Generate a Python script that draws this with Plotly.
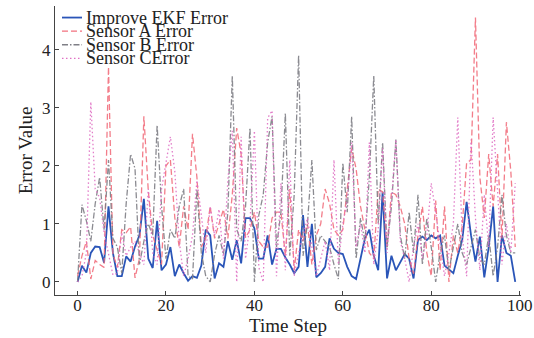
import plotly.graph_objects as go

steps = list(range(100))

improve_ekf = [0.00, 0.28, 0.16, 0.50, 0.61, 0.60, 0.33, 1.30, 0.50, 0.10,
               0.10, 0.44, 0.35, 0.61, 0.80, 1.43, 0.40, 0.24, 1.05, 0.20,
               0.30, 0.60, 0.10, 0.30, 0.15, 0.02, 0.10, 0.07, 0.28, 0.90,
               0.80, 0.06, 0.32, 0.26, 0.70, 0.38, 0.72, 0.32, 1.10, 1.10,
               0.92, 0.40, 0.40, 0.80, 0.30, 0.57, 0.57, 0.42, 0.30, 0.15,
               0.26, 1.15, 0.26, 1.00, 0.08, 0.15, 0.26, 0.75, 0.57, 0.50,
               0.48, 0.26, 0.10, 0.05, 0.40, 0.75, 0.90, 0.45, 0.20, 1.55,
               0.06, 0.45, 0.20, 0.35, 0.48, 0.40, 0.06, 0.72, 0.78, 0.72,
               0.80, 0.75, 0.80, 0.28, 0.22, 0.15, 0.45, 0.72, 1.38, 0.80,
               0.35, 0.78, 0.08, 0.60, 1.30, 0.00, 0.80, 0.50, 0.45, 0.00]

sensor_a = [0.10, 0.45, 0.70, 0.05, 0.37, 0.30, 0.25, 3.70, 0.48, 0.25,
            0.90, 0.85, 0.95, 0.07, 0.40, 2.85, 1.57, 0.80, 0.55, 0.30,
            2.00, 2.10, 1.10, 0.60, 1.30, 0.90, 2.55, 1.80, 0.60, 0.75,
            1.30, 0.75, 1.00, 1.25, 0.75, 1.50, 2.65, 2.20, 0.76, 0.90,
            1.20, 0.70, 0.60, 0.60, 1.10, 1.20, 1.20, 0.45, 1.60, 0.20,
            0.90, 0.70, 1.00, 0.30, 0.80, 1.00, 1.60, 1.35, 0.90, 0.80,
            0.90, 1.60, 2.30, 1.95, 1.30, 0.90, 0.50, 0.40, 1.60, 1.55,
            0.60, 1.55, 1.50, 1.30, 1.00, 0.40, 0.14, 0.80, 1.30, 0.50,
            0.10, 1.40, 0.20, 1.30, 0.00, 0.80, 0.50, 0.96, 2.05, 2.10,
            4.55, 1.80, 1.10, 2.20, 1.30, 2.20, 0.75, 2.75, 1.90, 0.60]

sensor_b = [0.00, 1.33, 1.05, 0.70, 1.35, 1.80, 0.90, 2.10, 0.75, 0.60,
            0.15, 1.35, 2.20, 1.95, 0.30, 0.70, 1.00, 0.80, 2.70, 1.30,
            0.40, 0.90, 0.75, 1.30, 1.60, 0.10, 0.05, 1.60, 0.50, 0.10,
            0.00, 0.47, 0.80, 0.47, 1.20, 3.55, 0.90, 0.70, 1.30, 2.65,
            0.00, 1.15, 1.50, 2.40, 2.85, 0.60, 1.20, 2.90, 0.45, 1.50,
            3.90, 0.45, 1.00, 2.10, 0.55, 0.80, 0.70, 0.60, 0.30, 0.05,
            2.05, 1.20, 2.85, 0.40, 1.10, 0.70, 1.80, 3.55, 1.00, 2.40,
            0.60, 1.30, 2.45, 0.80, 0.40, 1.20, 0.50, 1.50, 0.30, 1.10,
            0.60, 0.00, 0.50, 0.80, 0.20, 0.60, 1.00, 0.50, 0.30, 0.60,
            0.90, 0.40, 0.30, 0.80, 0.10, 0.60, 1.50, 0.80, 0.50, 0.50]

sensor_c = [0.00, 0.10, 0.50, 3.10, 1.60, 1.45, 0.85, 0.50, 0.12, 0.15,
            0.85, 0.45, 0.60, 0.70, 0.50, 0.30, 1.60, 0.50, 0.30, 1.60,
            2.05, 2.50, 1.90, 0.70, 0.10, 0.40, 0.80, 1.75, 1.15, 0.50,
            1.30, 0.80, 1.25, 0.40, 1.75, 2.60, 0.00, 2.50, 0.40, 1.00,
            2.60, 0.25, 0.00, 2.82, 2.95, 0.10, 1.70, 0.20, 2.10, 0.10,
            0.50, 0.80, 1.10, 0.60, 0.10, 0.40, 0.70, 0.20, 2.10, 0.30,
            1.00, 1.40, 2.40, 0.60, 1.00, 0.50, 2.40, 0.30, 0.90, 2.30,
            0.50, 1.40, 2.45, 0.70, 0.40, 0.00, 0.60, 1.00, 0.40, 0.80,
            1.70, 1.20, 0.60, 0.10, 0.50, 1.00, 2.83, 0.80, 0.10, 2.45,
            1.10, 0.20, 1.50, 0.60, 2.83, 1.60, 0.30, 1.00, 0.50, 1.70]

series = [
    ("Improve EKF Error", improve_ekf, "#2a55b8", 1.8, "solid", 1.0),
    ("Sensor A Error", sensor_a, "#f2707e", 1.3, "6px,3px", 0.9),
    ("Sensor B Error", sensor_b, "#7f7f86", 1.3, "6px,2px,1.5px,2px", 0.9),
    ("Sensor CError", sensor_c, "#e070c4", 1.3, "1.5px,2.5px", 0.9),
]

FONT = "Liberation Serif"
fig = go.Figure()
for name, vals, color, w, dash, op in series:
    fig.add_trace(go.Scatter(x=steps, y=vals, mode="lines", name=name,
                             line=dict(color=color, width=w, dash=dash),
                             opacity=op, showlegend=False))

# legend drawn manually (tight line spacing as in reference)
leg_y = [0.960, 0.913, 0.866, 0.819]
shapes = []
annotations = []
for (name, vals, color, w, dash, op), yy in zip(series, leg_y):
    shapes.append(dict(type="line", xref="paper", yref="paper",
                       x0=0.015, x1=0.058, y0=yy, y1=yy,
                       line=dict(color=color, width=w, dash=dash)))
    annotations.append(dict(xref="paper", yref="paper", x=0.062, y=yy,
                            text=name, showarrow=False, xanchor="left",
                            yanchor="middle",
                            font=dict(family=FONT, size=18, color="#222")))

fig.update_layout(
    width=534, height=338,
    margin=dict(l=55, r=13, t=6, b=43),
    paper_bgcolor="white", plot_bgcolor="white",
    font=dict(family=FONT, size=17, color="#222"),
    shapes=shapes, annotations=annotations,
    xaxis=dict(range=[-5.1, 100.3], tickvals=[0, 20, 40, 60, 80, 100],
               showgrid=False, zeroline=False, showline=True, automargin=False,
               linecolor="#444", linewidth=1, ticks="inside", ticklen=4,
               tickcolor="#444", ticklabelstandoff=-5,
               title=dict(text="Time Step", font=dict(family=FONT, size=19),
                          standoff=0)),
    yaxis=dict(range=[-0.225, 4.75], tickvals=[0, 1, 2, 3, 4],
               showgrid=False, zeroline=False, showline=True, automargin=False,
               linecolor="#444", linewidth=1, ticks="inside", ticklen=4,
               tickcolor="#444",
               title=dict(text="Error Value", font=dict(family=FONT, size=19),
                          standoff=4)),
)

fig.write_html("out.html")
